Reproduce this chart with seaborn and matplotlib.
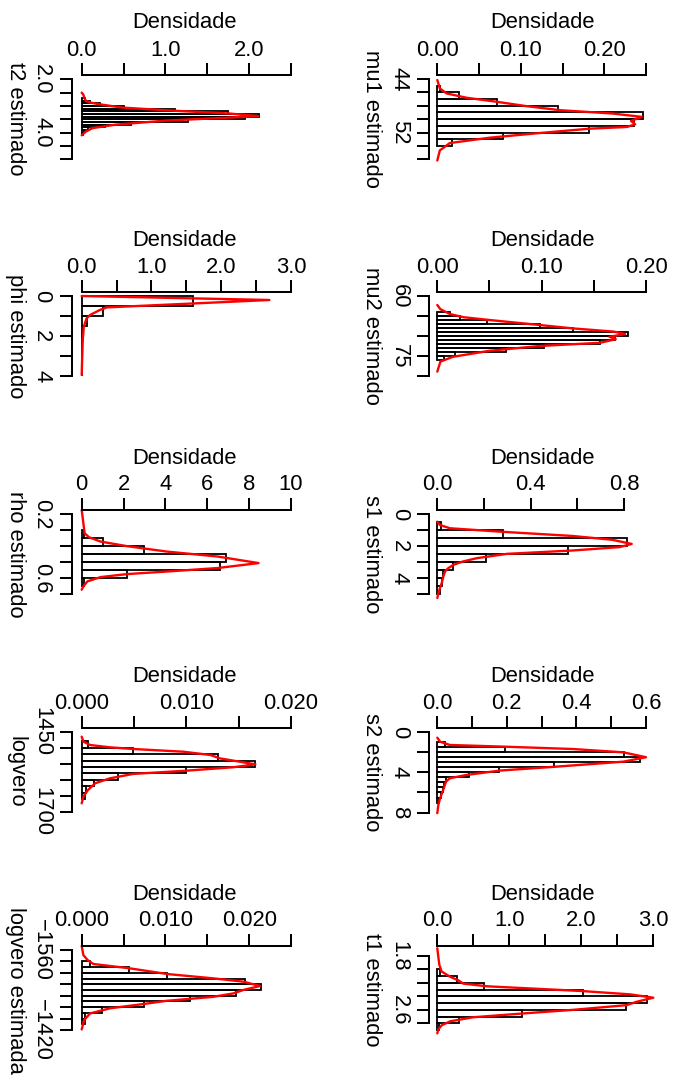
import numpy as np
import pandas as pd
import matplotlib
matplotlib.use("Agg")
import matplotlib.pyplot as plt
import seaborn as sns

# ---------------------------------------------------------------- data
# t2
t2_edges = [2.7, 2.8, 2.9, 3.0, 3.1, 3.2, 3.3, 3.4, 3.5, 3.6, 3.7, 3.8, 3.9, 4.0, 4.1]
t2_dens = [0.04, 0.10, 0.22, 0.51, 1.11, 1.75, 2.12, 1.95, 1.27, 0.59, 0.28, 0.08, 0.03, 0.02]
t2_kde_val = [2.50, 2.58, 2.68, 2.81, 2.87, 2.93, 3.06, 3.18, 3.28, 3.38, 3.45, 3.55, 3.70, 3.83, 3.96, 4.10]
t2_kde_dens = [0.0, 0.02, 0.03, 0.05, 0.10, 0.20, 0.48, 1.11, 1.75, 2.11, 1.67, 1.00, 0.41, 0.13, 0.05, 0.0]
t2_dticks = [0.0, 0.5, 1.0, 1.5, 2.0, 2.5]
t2_dlabels = ["0.0", "", "1.0", "", "2.0", ""]
t2_pticks = [2.0, 2.5, 3.0, 3.5, 4.0, 4.5, 5.0]
t2_plabels = ["2.0", "", "", "", "4.0", "", ""]

# mu1
mu1_edges = [45, 46, 47, 48, 49, 50, 51, 52, 53, 54]
mu1_dens = [0.003, 0.026, 0.072, 0.144, 0.246, 0.236, 0.182, 0.079, 0.018]
mu1_kde_val = [44.15, 45.4, 46.15, 46.8, 47.4, 48.06, 48.66, 49.16, 49.66, 50.27, 50.77,
               51.17, 51.42, 52.07, 52.77, 53.57, 54.68, 56.18]
mu1_kde_dens = [0.0, 0.003, 0.011, 0.035, 0.071, 0.107, 0.147, 0.21, 0.245, 0.232, 0.237,
                0.227, 0.183, 0.123, 0.063, 0.015, 0.003, 0.0]
mu1_dticks = [0.0, 0.05, 0.10, 0.15, 0.20, 0.25]
mu1_dlabels = ["0.00", "", "0.10", "", "0.20", ""]
mu1_pticks = [44, 46, 48, 50, 52, 54, 56]
mu1_plabels = ["44", "", "", "", "52", "", ""]

# phi
phi_edges = [0.0, 0.5, 1.0, 1.5, 2.0, 2.5, 3.0, 3.5, 4.0]
phi_dens = [1.59, 0.30, 0.07, 0.02, 0.01, 0.005, 0.003, 0.002]
phi_kde_val = [0.0, 0.1, 0.2, 0.57, 0.7, 0.95, 1.12, 1.53, 2.2, 3.2, 3.95]
phi_kde_dens = [0.0, 1.34, 2.69, 0.36, 0.26, 0.12, 0.07, 0.03, 0.015, 0.006, 0.0]
phi_dticks = [0.0, 0.5, 1.0, 1.5, 2.0, 2.5, 3.0]
phi_dlabels = ["0.0", "", "1.0", "", "2.0", "", "3.0"]
phi_pticks = [0, 1, 2, 3, 4]
phi_plabels = ["0", "", "2", "", "4"]

# mu2
mu2_edges = [64, 65, 66, 67, 68, 69, 70, 71, 72, 73, 74, 75, 76]
mu2_dens = [0.012, 0.022, 0.048, 0.098, 0.130, 0.183, 0.170, 0.156, 0.102, 0.066, 0.017, 0.006]
mu2_kde_val = [62.25, 63.3, 64.5, 65.3, 66.0, 67.25, 68.1, 68.9, 69.5, 70.2, 70.8, 71.7,
               72.5, 73.7, 75.2, 76.4, 78.9]
mu2_kde_dens = [0.0, 0.003, 0.012, 0.025, 0.05, 0.098, 0.13, 0.169, 0.18, 0.165, 0.171,
                0.156, 0.098, 0.05, 0.015, 0.003, 0.0]
mu2_dticks = [0.0, 0.05, 0.10, 0.15, 0.20]
mu2_dlabels = ["0.00", "", "0.10", "", "0.20"]
mu2_pticks = [60, 65, 70, 75, 80]
mu2_plabels = ["60", "", "", "75", ""]

# rho
rho_edges = [0.30, 0.35, 0.40, 0.45, 0.50, 0.55, 0.60, 0.65]
rho_dens = [0.13, 1.00, 2.99, 6.90, 6.60, 2.15, 0.13]
rho_kde_val = [0.173, 0.256, 0.319, 0.344, 0.371, 0.40, 0.434, 0.465, 0.506, 0.537, 0.559,
               0.575, 0.594, 0.621, 0.652, 0.673]
rho_kde_dens = [0.0, 0.08, 0.14, 0.35, 0.9, 2.17, 4.08, 6.5, 8.45, 6.5, 4.08, 2.17, 0.9,
                0.27, 0.08, 0.0]
rho_dticks = [0, 2, 4, 6, 8, 10]
rho_dlabels = ["0", "2", "4", "6", "8", "10"]
rho_pticks = [0.2, 0.3, 0.4, 0.5, 0.6, 0.7]
rho_plabels = ["0.2", "", "", "", "0.6", ""]

# s1
s1_edges = [0.5, 1.0, 1.5, 2.0, 2.5, 3.0, 3.5, 4.0, 4.5, 5.0]
s1_dens = [0.016, 0.28, 0.814, 0.561, 0.207, 0.066, 0.026, 0.019, 0.011]
s1_kde_val = [0.46, 0.67, 0.875, 1.09, 1.36, 1.6, 1.86, 2.06, 2.27, 2.48, 2.75, 2.96, 3.17,
              3.38, 3.59, 3.9, 4.31, 4.73, 5.25]
s1_kde_dens = [0.0, 0.011, 0.054, 0.27, 0.58, 0.75, 0.833, 0.78, 0.58, 0.30, 0.17, 0.11,
               0.069, 0.047, 0.033, 0.026, 0.019, 0.009, 0.0]
s1_dticks = [0.0, 0.2, 0.4, 0.6, 0.8]
s1_dlabels = ["0.0", "", "0.4", "", "0.8"]
s1_pticks = [0, 1, 2, 3, 4, 5]
s1_plabels = ["0", "", "2", "", "4", ""]

# logvero
lv_edges = [1480, 1500, 1520, 1540, 1560, 1580, 1600, 1620, 1640, 1660]
lv_dens = [0.00064, 0.00487, 0.0130, 0.01656, 0.00997, 0.0035, 0.00118, 0.00041, 0.0003]
lv_kde_val = [1465.6, 1481, 1491.6, 1498.8, 1504, 1512.5, 1522.8, 1533.3, 1543.8, 1552,
              1561, 1571.8, 1582, 1595.7, 1611, 1632, 1653, 1673.8]
lv_kde_dens = [0.0, 0.00016, 0.0008, 0.0027, 0.0049, 0.0097, 0.0123, 0.0132, 0.0151,
               0.0166, 0.0145, 0.0100, 0.0049, 0.0027, 0.0013, 0.0006, 0.00016, 0.0]
lv_dticks = [0.0, 0.005, 0.010, 0.015, 0.020]
lv_dlabels = ["0.000", "", "0.010", "", "0.020"]
lv_pticks = [1450, 1500, 1550, 1600, 1650, 1700]
lv_plabels = ["1450", "", "", "", "", "1700"]

# s2
s2_edges = [1.0, 1.5, 2.0, 2.5, 3.0, 3.5, 4.0, 4.5, 5.0, 5.5, 6.0, 6.5, 7.0]
s2_dens = [0.022, 0.194, 0.537, 0.583, 0.336, 0.178, 0.092, 0.025, 0.019, 0.015, 0.011, 0.006]
s2_kde_val = [0.59, 0.99, 1.31, 1.48, 1.71, 2.04, 2.52, 2.96, 3.45, 3.84, 4.27, 4.6, 4.93,
              5.75, 6.57, 7.23, 8.05]
s2_kde_dens = [0.0, 0.008, 0.036, 0.194, 0.39, 0.535, 0.6, 0.535, 0.343, 0.18, 0.084,
               0.036, 0.025, 0.017, 0.008, 0.003, 0.0]
s2_dticks = [0.0, 0.1, 0.2, 0.3, 0.4, 0.5, 0.6]
s2_dlabels = ["0.0", "", "0.2", "", "0.4", "", "0.6"]
s2_pticks = [0, 2, 4, 6, 8]
s2_plabels = ["0", "", "4", "", "8"]

# logvero estimada
lve_edges = [-1540, -1530, -1520, -1510, -1500, -1490, -1480, -1470, -1460, -1450, -1440, -1430]
lve_dens = [0.001, 0.0057, 0.0102, 0.0195, 0.0214, 0.0184, 0.0129, 0.0074, 0.0024, 0.0004, 0.0004]
lve_kde_val = [-1567, -1551, -1542.5, -1535.5, -1528, -1518, -1510.4, -1504.6, -1497, -1490,
               -1484, -1478, -1471, -1465.5, -1458, -1449, -1437.5, -1421]
lve_kde_dens = [0.0, 0.0002, 0.0007, 0.0014, 0.0057, 0.0102, 0.0157, 0.0193, 0.0213, 0.0193,
                0.0181, 0.0157, 0.0101, 0.0074, 0.0034, 0.001, 0.0003, 0.0]
lve_dticks = [0.0, 0.005, 0.010, 0.015, 0.020, 0.025]
lve_dlabels = ["0.000", "", "0.010", "", "0.020", ""]
lve_pticks = [-1560, -1540, -1520, -1500, -1480, -1460, -1440, -1420]
lve_plabels = ["\u22121560", "", "", "", "", "", "", "\u22121420"]

# t1
t1_edges = [2.0, 2.1, 2.2, 2.3, 2.4, 2.5, 2.6, 2.7, 2.8, 2.9]
t1_dens = [0.04, 0.27, 0.65, 2.02, 2.91, 2.62, 1.18, 0.30, 0.03]
t1_kde_val = [1.685, 1.81, 1.93, 2.03, 2.11, 2.16, 2.21, 2.25, 2.32, 2.37, 2.42, 2.48, 2.53,
              2.60, 2.65, 2.71, 2.77, 2.83, 2.89, 2.95]
t1_kde_dens = [0.0, 0.014, 0.028, 0.06, 0.18, 0.29, 0.36, 0.69, 2.0, 2.68, 3.0, 2.77, 2.63,
               1.89, 1.24, 0.5, 0.18, 0.06, 0.014, 0.0]
t1_dticks = [0.0, 0.5, 1.0, 1.5, 2.0, 2.5, 3.0]
t1_dlabels = ["0.0", "", "1.0", "", "2.0", "", "3.0"]
t1_pticks = [1.8, 2.0, 2.2, 2.4, 2.6, 2.8]
t1_plabels = ["1.8", "", "", "", "2.6", ""]

panels = [
    dict(name="t2 estimado", edges=t2_edges, dens=t2_dens, kv=t2_kde_val, kd=t2_kde_dens,
         dt=t2_dticks, dl=t2_dlabels, pt=t2_pticks, pl=t2_plabels),
    dict(name="mu1 estimado", edges=mu1_edges, dens=mu1_dens, kv=mu1_kde_val, kd=mu1_kde_dens,
         dt=mu1_dticks, dl=mu1_dlabels, pt=mu1_pticks, pl=mu1_plabels),
    dict(name="phi estimado", edges=phi_edges, dens=phi_dens, kv=phi_kde_val, kd=phi_kde_dens,
         dt=phi_dticks, dl=phi_dlabels, pt=phi_pticks, pl=phi_plabels),
    dict(name="mu2 estimado", edges=mu2_edges, dens=mu2_dens, kv=mu2_kde_val, kd=mu2_kde_dens,
         dt=mu2_dticks, dl=mu2_dlabels, pt=mu2_pticks, pl=mu2_plabels),
    dict(name="rho estimado", edges=rho_edges, dens=rho_dens, kv=rho_kde_val, kd=rho_kde_dens,
         dt=rho_dticks, dl=rho_dlabels, pt=rho_pticks, pl=rho_plabels),
    dict(name="s1 estimado", edges=s1_edges, dens=s1_dens, kv=s1_kde_val, kd=s1_kde_dens,
         dt=s1_dticks, dl=s1_dlabels, pt=s1_pticks, pl=s1_plabels),
    dict(name="logvero", edges=lv_edges, dens=lv_dens, kv=lv_kde_val, kd=lv_kde_dens,
         dt=lv_dticks, dl=lv_dlabels, pt=lv_pticks, pl=lv_plabels),
    dict(name="s2 estimado", edges=s2_edges, dens=s2_dens, kv=s2_kde_val, kd=s2_kde_dens,
         dt=s2_dticks, dl=s2_dlabels, pt=s2_pticks, pl=s2_plabels),
    dict(name="logvero estimada", edges=lve_edges, dens=lve_dens, kv=lve_kde_val, kd=lve_kde_dens,
         dt=lve_dticks, dl=lve_dlabels, pt=lve_pticks, pl=lve_plabels),
    dict(name="t1 estimado", edges=t1_edges, dens=t1_dens, kv=t1_kde_val, kd=t1_kde_dens,
         dt=t1_dticks, dl=t1_dlabels, pt=t1_pticks, pl=t1_plabels),
]

# ---------------------------------------------------------------- layout (pixels)
W, H = 675, 1083
COLS = [dict(L=71.7, x0=81.7, lab_x=10.0, title_x=185.0),
        dict(L=429.3, x0=437.3, lab_x=366.5, title_x=542.3)]
ROW_T = [75.0, 292.2, 510.0, 728.3, 946.0]
# per panel: (first param tick px, last param tick px, last density tick px)
GEOM = [(79.3, 159.3, 291.0), (79.0, 159.3, 646.0),
        (296.0, 376.0, 291.0), (296.0, 376.0, 646.0),
        (514.3, 594.0, 291.0), (514.3, 594.0, 624.0),
        (731.7, 811.7, 291.0), (731.7, 812.7, 646.0),
        (950.0, 1030.0, 291.0), (956.0, 1023.3, 653.3)]

FS = 15.8
PX = 0.72  # points per pixel at dpi 100
AXLW = 1.45

sns.set_theme(style="white", rc={
    "axes.edgecolor": "black", "xtick.color": "black", "ytick.color": "black",
    "text.color": "black", "axes.labelcolor": "black", "axes.facecolor": "none",
    "figure.facecolor": "white"})
plt.rcParams["font.family"] = ["Liberation Sans", "DejaVu Sans"]

fig = plt.figure(figsize=(W / 100, H / 100), dpi=100)

for i, p in enumerate(panels):
    col = COLS[i % 2]
    T = ROW_T[i // 2]
    yf, yl, x1 = GEOM[i]
    L, x0 = col["L"], col["x0"]
    ax = fig.add_axes([L / W, 1 - yl / H, (x1 - L) / W, (yl - T) / H])

    edges = list(p["edges"])
    mids = [(a + b) / 2 for a, b in zip(edges[:-1], edges[1:])]
    df_bar = pd.DataFrame({"value": mids, "density": p["dens"]})
    sns.histplot(data=df_bar, y="value", weights="density", bins=edges, stat="count",
                 fill=False, color="black", linewidth=1.3, ax=ax)
    df_kde = pd.DataFrame({"value": p["kv"], "density": p["kd"]})
    sns.lineplot(data=df_kde, x="density", y="value", orient="y", sort=False,
                 estimator=None, color="#FF0000", linewidth=1.7, ax=ax)

    for art in list(ax.patches) + list(ax.lines):
        art.set_clip_on(False)

    dmax = p["dt"][-1]
    sx = dmax / (x1 - x0)
    ax.set_xlim(-(x0 - L) * sx, dmax)
    pf, pl_ = p["pt"][0], p["pt"][-1]
    sy = (pl_ - pf) / (yl - yf)
    ax.set_ylim(pl_, pf - (yf - T) * sy)

    ax.set_xlabel("")
    ax.set_ylabel("")
    ax.grid(False)
    for s in ("right", "bottom"):
        ax.spines[s].set_visible(False)
    ax.spines["top"].set_bounds(0, dmax)
    ax.spines["left"].set_bounds(pf, pl_)
    for s in ("top", "left"):
        ax.spines[s].set_linewidth(AXLW)
        ax.spines[s].set_color("black")

    ax.xaxis.tick_top()
    ax.set_xticks(p["dt"])
    ax.set_xticklabels(p["dl"])
    ax.set_yticks(p["pt"])
    ax.set_yticklabels(p["pl"])
    ax.tick_params(axis="x", which="both", top=True, bottom=False, labeltop=True,
                   labelbottom=False, direction="out", length=12.5 * PX, width=AXLW,
                   pad=2.0 * PX, labelsize=FS)
    ax.tick_params(axis="y", which="both", left=True, right=False, direction="out",
                   length=12.5 * PX, width=AXLW, pad=7.0 * PX, labelsize=FS)
    for lab in ax.get_yticklabels():
        lab.set_rotation(-90)
        lab.set_va("center")
        lab.set_ha("right")

    # axis titles
    fig.text(col["title_x"] / W, 1 - (T - 46.5) / H, "Densidade", ha="center",
             va="baseline", fontsize=FS)
    fig.text(col["lab_x"] / W, 1 - (T + 44.0) / H, p["name"], ha="center",
             va="baseline", rotation=-90, rotation_mode="anchor", fontsize=FS)

fig.savefig("out.png", dpi=100, facecolor="white")
